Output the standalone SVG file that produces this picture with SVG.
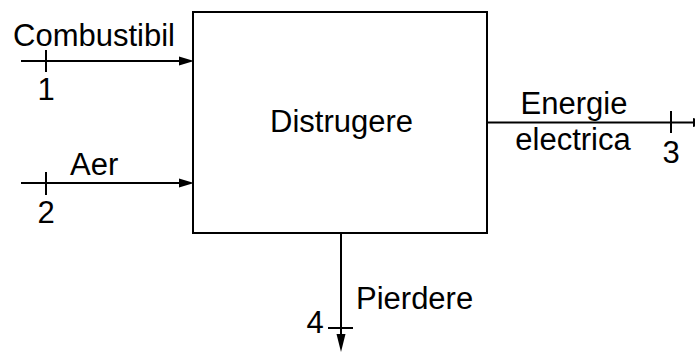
<svg xmlns="http://www.w3.org/2000/svg" width="695" height="352" viewBox="0 0 695 352">
<style>
text{font-family:"Liberation Sans",Arial,sans-serif;font-size:31px;fill:#000}
.ln{stroke:#000;stroke-width:2;fill:none}
.ah{fill:#000;stroke:none}
</style>
<rect width="695" height="352" fill="#fff"/>
<g id="connectors">
<line class="ln" x1="21" y1="61" x2="181" y2="61"/>
<polygon class="ah" points="194,61 179,56.5 179,65.5"/>
<line class="ln" x1="46" y1="50" x2="46" y2="72"/>
<line class="ln" x1="21" y1="183" x2="181" y2="183"/>
<polygon class="ah" points="194,183 179,178.5 179,187.5"/>
<line class="ln" x1="46" y1="172" x2="46" y2="195"/>
<line class="ln" x1="487" y1="122.5" x2="695" y2="122.5"/>
<polygon class="ah" points="708,122.5 693,118 693,127"/>
<line class="ln" x1="671" y1="111" x2="671" y2="133"/>
<line class="ln" x1="341" y1="233" x2="341" y2="338"/>
<polygon class="ah" points="341,352 336.5,334 345.5,334"/>
<line class="ln" x1="328" y1="328" x2="353" y2="328"/>
</g>
<g id="distrugere">
<rect x="193" y="12" width="294" height="221" class="ln"/>
<text x="341.5" y="132" text-anchor="middle">Distrugere</text>
</g>
<g id="labels">
<text x="13" y="46">Combustibil</text>
<text x="46" y="100" text-anchor="middle">1</text>
<text x="70" y="175">Aer</text>
<text x="46" y="223" text-anchor="middle">2</text>
<text x="574" y="114" text-anchor="middle">Energie</text>
<text x="573" y="150" text-anchor="middle">electrica</text>
<text x="671" y="163" text-anchor="middle">3</text>
<text x="356" y="309">Pierdere</text>
<text x="315" y="333" text-anchor="middle">4</text>
</g>
</svg>
